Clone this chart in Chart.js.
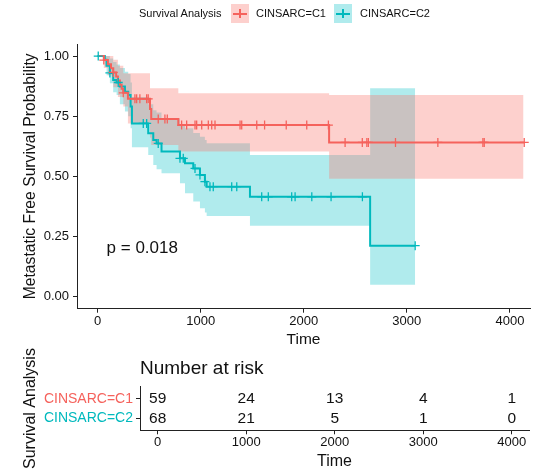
<!DOCTYPE html>
<html>
<head>
<meta charset="utf-8">
<script src="https://cdn.jsdelivr.net/npm/chart.js@4.4.1/dist/chart.umd.min.js"></script>
<style>
  body { margin: 0; background: #fff; font-family: "Liberation Sans", Arial, sans-serif; }
  #wrap { position: relative; width: 556px; height: 475px; overflow: hidden; background: #fff; }
  #mainChart { position: absolute; left: 0; top: 0; }
  #riskChart { position: absolute; left: 0; top: 340px; }
  .lg { position: absolute; top: 4px; height: 19px; line-height: 19px; font-size: 11px; color: #111; white-space: nowrap; }
  .key { position: absolute; top: 4px; width: 18px; height: 19px; }
  .key .h { position: absolute; left: 2px; right: 2px; top: 8.5px; height: 2px; }
  .key .v { position: absolute; left: 8px; width: 2px; top: 5px; height: 9px; }
</style>
</head>
<body>
<div id="wrap">
  <canvas id="mainChart" width="556" height="350"></canvas>
  <canvas id="riskChart" width="556" height="135"></canvas>
  <div class="lg" style="left:139px">Survival Analysis</div>
  <div class="key" id="key1" style="left:231px"><div class="h"></div><div class="v"></div></div>
  <div class="lg" style="left:256px">CINSARC=C1</div>
  <div class="key" id="key2" style="left:334px"><div class="h"></div><div class="v"></div></div>
  <div class="lg" style="left:360px">CINSARC=C2</div>
</div>
<script>
// --- data ---
const groups = ['CINSARC=C1', 'CINSARC=C2'];
const xTicks = [0, 1000, 2000, 3000, 4000];
const yTicks = [0, 0.25, 0.5, 0.75, 1];

// Kaplan-Meier steps, CINSARC=C1
const c1Time = [0, 60, 100, 130, 152, 180, 197, 216, 233, 249, 294, 508, 520, 783, 2246, 4139];
const c1Surv = [1.0, 0.983, 0.966, 0.949, 0.932, 0.915, 0.898, 0.881, 0.864, 0.847, 0.822, 0.78, 0.738, 0.713, 0.641, 0.641];
// confidence band C1
const c1BandTime = [0, 60, 100, 152, 197, 249, 294, 508, 520, 783, 2246, 4132];
const c1Upper = [1.0, 1.0, 1.0, 0.985, 0.96, 0.928, 0.928, 0.866, 0.866, 0.845, 0.838, 0.838];
const c1Lower = [1.0, 0.95, 0.92, 0.87, 0.83, 0.79, 0.72, 0.66, 0.63, 0.603, 0.49, 0.49];
const c1Censor = [60, 152, 249, 362, 379, 410, 476, 491, 588, 653, 676, 815, 864, 945, 961, 1010, 1074, 1107, 1139,
  1382, 1398, 1544, 1620, 1830, 2029, 2239, 2401, 2568, 2612, 2627, 2890, 3301, 3738, 3751, 4139];

// Kaplan-Meier steps, CINSARC=C2
const c2Time = [0, 70, 87, 119, 151, 184, 216, 265, 297, 320, 333, 491, 540, 572, 620, 799, 848, 928, 993, 1041, 1058, 1478, 2644, 3081];
const c2Surv = [1.0, 0.985, 0.96, 0.93, 0.90, 0.89, 0.873, 0.852, 0.838, 0.79, 0.72, 0.679, 0.651, 0.637, 0.603, 0.575, 0.554, 0.533, 0.506, 0.478, 0.457, 0.415, 0.212, 0.212];
const c2Upper = [1.0, 1.0, 1.0, 0.99, 0.975, 0.965, 0.95, 0.935, 0.925, 0.89, 0.83, 0.80, 0.775, 0.765, 0.74, 0.715, 0.70, 0.68, 0.665, 0.651, 0.638, 0.589, 0.866, 0.866];
const c2Lower = [1.0, 0.955, 0.92, 0.887, 0.85, 0.838, 0.80, 0.769, 0.75, 0.70, 0.621, 0.589, 0.547, 0.53, 0.513, 0.471, 0.43, 0.395, 0.367, 0.35, 0.335, 0.295, 0.05, 0.05];
const c2Censor = [6, 119, 200, 443, 476, 588, 799, 831, 945, 993, 1041, 1090, 1122, 1301, 1350,
  1592, 1656, 1883, 1916, 2078, 2265, 2569, 3081];

// number at risk
const riskTimes = [0, 1000, 2000, 3000, 4000];
const c1Risk = [59, 24, 13, 4, 1];
const c2Risk = [68, 21, 5, 1, 0];

const pValueText = 'p = 0.018';

// --- styling ---
const colC1 = '#F5625C';
const colC2 = '#00B9BD';
const bandC1 = 'rgba(248,118,109,0.34)';
const bandC2 = 'rgba(0,191,196,0.31)';
const axisColor = '#222';
const textColor = '#111';
const xMin = -200, xMax = 4195;

document.querySelector('#key1').style.background = bandC1;
document.querySelector('#key2').style.background = bandC2;
document.querySelectorAll('#key1 div').forEach(d => d.style.background = colC1);
document.querySelectorAll('#key2 div').forEach(d => d.style.background = colC2);

Chart.defaults.font.family = '"Liberation Sans", Arial, sans-serif';
Chart.defaults.color = textColor;

function toXY(xs, ys) {
  return xs.map((x, i) => ({ x: x, y: ys[i] }));
}
// survival value of a step curve at time t (for placing censor marks)
function survAt(times, surv, t) {
  let s = surv[0];
  for (let i = 0; i < times.length; i++) {
    if (times[i] <= t) s = surv[i];
  }
  return s;
}

function band(xs, ys, fill, bg) {
  return { data: toXY(xs, ys), stepped: true, borderWidth: 0, borderColor: 'transparent',
    pointRadius: 0, fill: fill, backgroundColor: bg, order: 3 };
}

const pValuePlugin = {
  id: 'pvalue',
  afterDatasetsDraw(chart) {
    const ctx = chart.ctx;
    ctx.save();
    ctx.font = '17px "Liberation Sans", Arial, sans-serif';
    ctx.fillStyle = textColor;
    ctx.textAlign = 'left';
    ctx.textBaseline = 'middle';
    ctx.fillText(pValueText, chart.scales.x.getPixelForValue(87), chart.scales.y.getPixelForValue(0.2));
    ctx.restore();
  }
};

const axisGrid = { display: true, drawOnChartArea: false, drawTicks: true, tickLength: 4, color: axisColor, tickColor: axisColor };
const axisBorder = { display: true, color: axisColor, width: 1 };

new Chart(document.getElementById('mainChart'), {
  type: 'line',
  data: {
    datasets: [
      band(c1BandTime, c1Upper, '+1', bandC1),
      band(c1BandTime, c1Lower, false, bandC1),
      band(c2Time, c2Upper, '+1', bandC2),
      band(c2Time, c2Lower, false, bandC2),
      { data: toXY(c1Time, c1Surv), stepped: true, borderColor: colC1, borderWidth: 2, pointRadius: 0, fill: false, order: 2 },
      { data: toXY(c2Time, c2Surv), stepped: true, borderColor: colC2, borderWidth: 2, pointRadius: 0, fill: false, order: 2 },
      { data: c1Censor.map(t => ({ x: t, y: survAt(c1Time, c1Surv, t) })), showLine: false, pointStyle: 'cross',
        pointRadius: 4.5, pointBorderWidth: 1.3, borderColor: colC1, order: 1 },
      { data: c2Censor.map(t => ({ x: t, y: survAt(c2Time, c2Surv, t) })), showLine: false, pointStyle: 'cross',
        pointRadius: 4.5, pointBorderWidth: 1.3, borderColor: colC2, order: 1 }
    ]
  },
  options: {
    responsive: false,
    animation: false,
    events: [],
    layout: { padding: { top: 44, right: 26, left: 0, bottom: 0 } },
    plugins: { legend: { display: false }, tooltip: { enabled: false } },
    scales: {
      x: {
        type: 'linear', min: xMin, max: xMax,
        afterBuildTicks: s => { s.ticks = xTicks.map(v => ({ value: v })); },
        afterFit: s => { s.height = 41.3; },
        grid: axisGrid, border: axisBorder,
        ticks: { color: textColor, font: { size: 13 }, padding: 1, maxRotation: 0, callback: v => String(v) },
        title: { display: true, text: 'Time', color: textColor, font: { size: 15.5 }, padding: { top: 0, bottom: 1 } }
      },
      y: {
        type: 'linear', min: -0.05, max: 1.05,
        afterBuildTicks: s => { s.ticks = yTicks.map(v => ({ value: v })); },
        afterFit: s => { s.width = 77; },
        grid: axisGrid, border: axisBorder,
        ticks: { color: textColor, font: { size: 13 }, padding: 4, callback: v => Number(v).toFixed(2) },
        title: { display: true, text: 'Metastatic Free Survival Probability', color: textColor, font: { size: 15.7 }, padding: { top: 21, bottom: 0 } }
      }
    }
  },
  plugins: [pValuePlugin]
});

// --- risk table ---
const riskRows = [c1Risk, c2Risk];
const riskLabelPlugin = {
  id: 'riskLabels',
  afterDatasetsDraw(chart) {
    const ctx = chart.ctx;
    ctx.save();
    ctx.font = '15.5px "Liberation Sans", Arial, sans-serif';
    ctx.fillStyle = textColor;
    ctx.textAlign = 'center';
    ctx.textBaseline = 'middle';
    riskRows.forEach((row, di) => {
      chart.getDatasetMeta(di).data.forEach((pt, i) => {
        ctx.fillText(String(row[i]), pt.x, pt.y);
      });
    });
    ctx.restore();
  }
};

new Chart(document.getElementById('riskChart'), {
  type: 'line',
  data: {
    datasets: [
      { data: riskTimes.map(t => ({ x: t, y: 2 })), showLine: false, pointRadius: 0 },
      { data: riskTimes.map(t => ({ x: t, y: 1 })), showLine: false, pointRadius: 0 }
    ]
  },
  options: {
    responsive: false,
    animation: false,
    events: [],
    layout: { padding: { top: 10, right: 27, left: 0, bottom: 0 } },
    plugins: {
      legend: { display: false },
      tooltip: { enabled: false },
      title: { display: true, text: 'Number at risk', align: 'start', fullSize: false, color: textColor,
        font: { size: 19, weight: 'normal' }, padding: { top: 7, bottom: 7 } }
    },
    scales: {
      x: {
        type: 'linear', min: xMin, max: xMax,
        afterBuildTicks: s => { s.ticks = riskTimes.map(v => ({ value: v })); },
        afterFit: s => { s.height = 44.7; },
        grid: axisGrid, border: axisBorder,
        ticks: { color: textColor, font: { size: 13 }, padding: 0, maxRotation: 0, callback: v => String(v) },
        title: { display: true, text: 'Time', color: textColor, font: { size: 16 }, padding: { top: 0, bottom: 4 } }
      },
      y: {
        type: 'linear', min: 0.4, max: 2.6,
        afterBuildTicks: s => { s.ticks = [1, 2].map(v => ({ value: v })); },
        afterFit: s => { s.width = 140; },
        grid: axisGrid, border: axisBorder,
        ticks: { font: { size: 14 }, padding: 3,
          color: c => (c.tick && c.tick.value === 2 ? colC1 : colC2),
          callback: v => (v === 2 ? groups[0] : groups[1]) },
        title: { display: true, text: 'Survival Analysis', color: textColor, font: { size: 16 }, padding: { top: 21, bottom: 0 } }
      }
    }
  },
  plugins: [riskLabelPlugin]
});
</script>
</body>
</html>
